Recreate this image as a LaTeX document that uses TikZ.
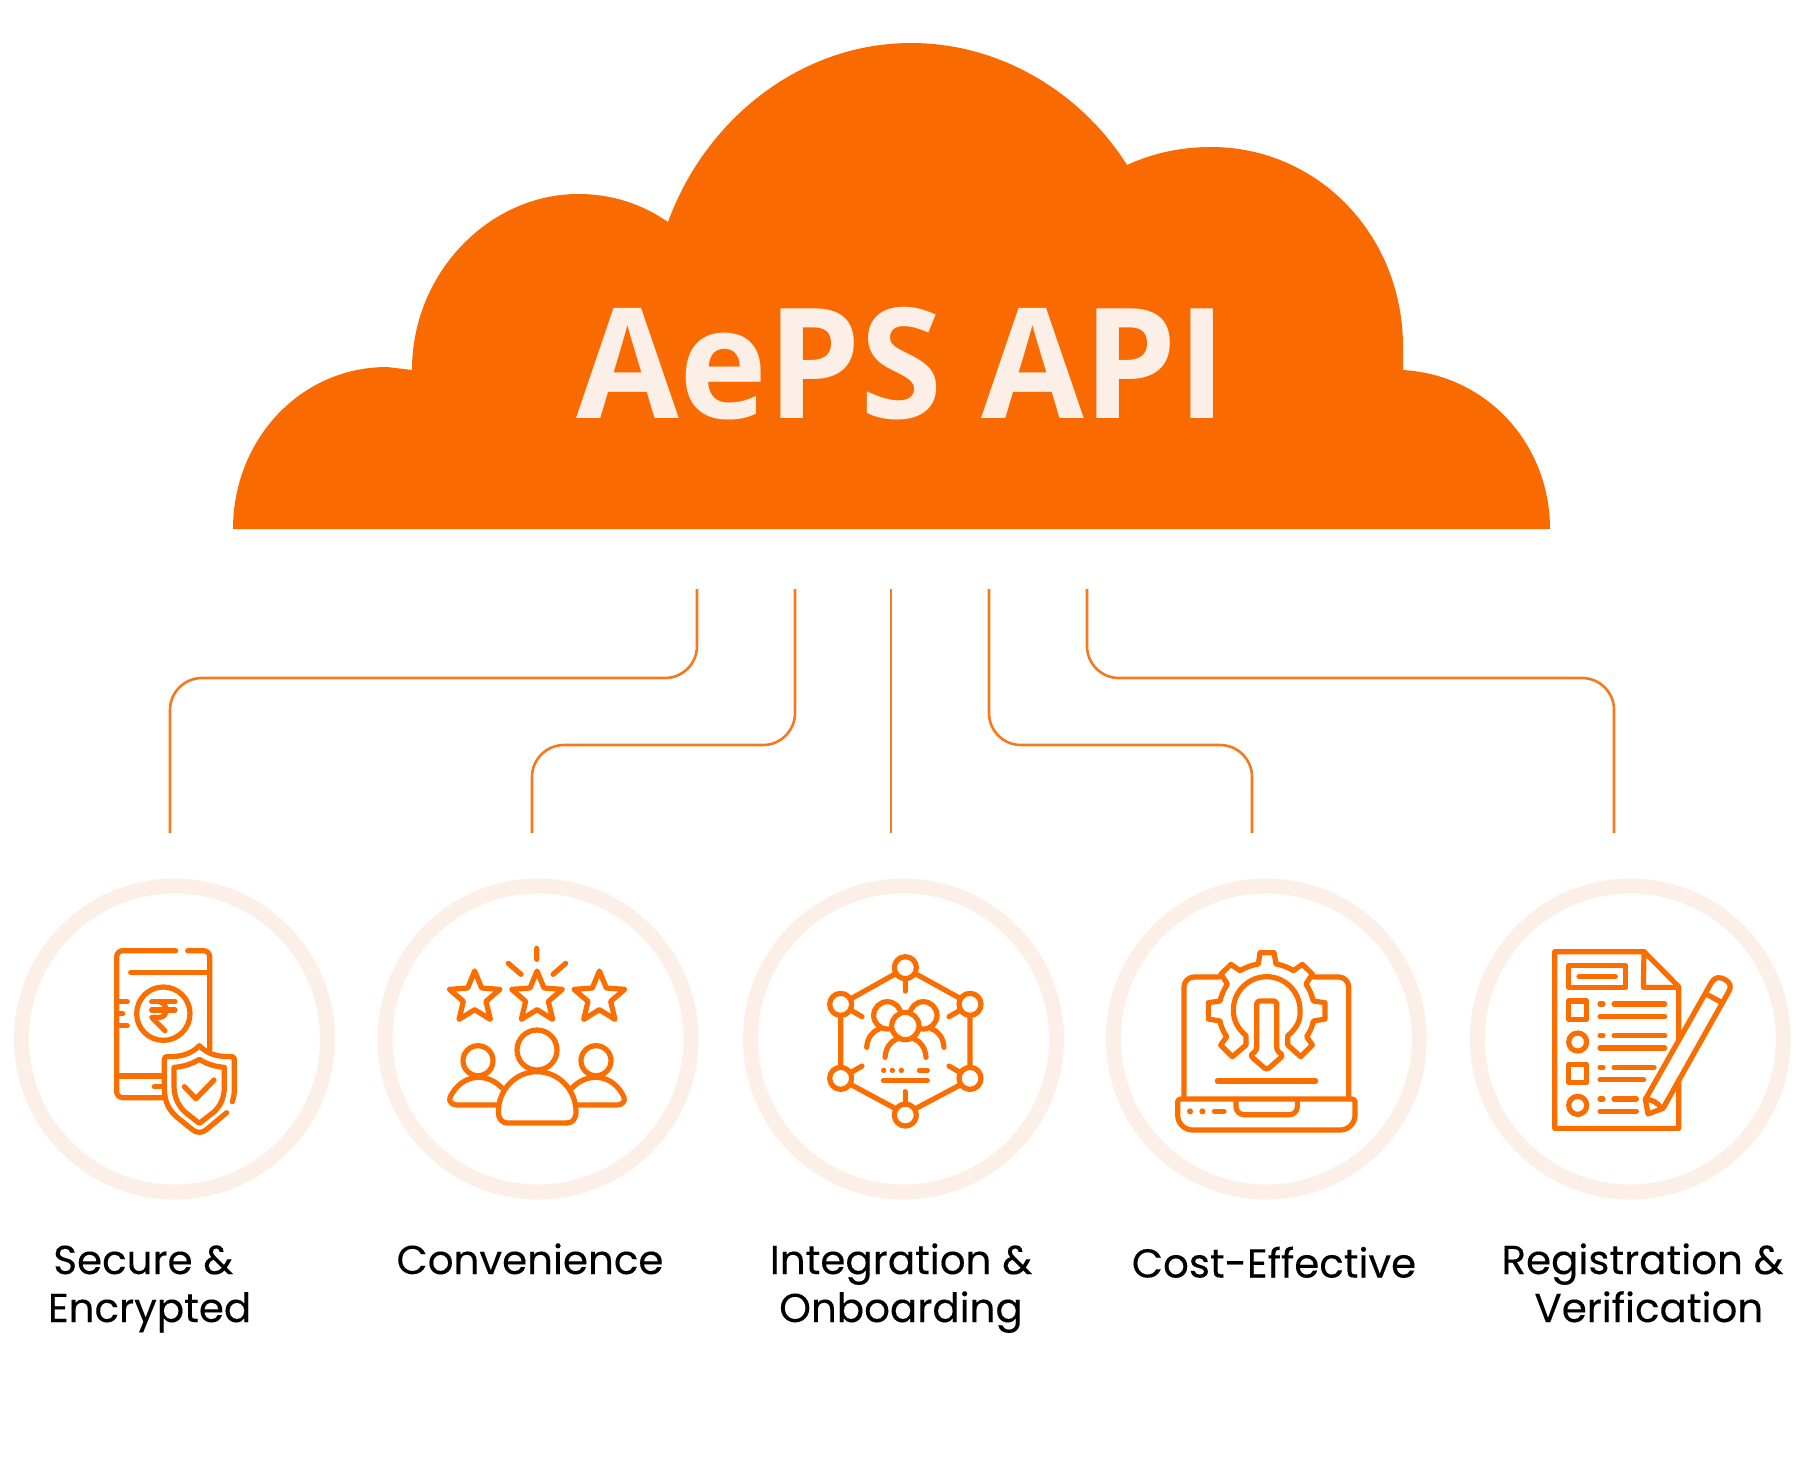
\documentclass[tikz,border=0pt]{standalone}
\usepackage{fontspec}
\usepackage{graphicx}
\setmainfont{Poppins}[FakeBold=0.2]
\newfontfamily\titlefont{Open Sans}[BoldFont={* Bold}]
\definecolor{brand}{HTML}{F96B00}
\definecolor{iconc}{HTML}{FA6E00}
\definecolor{linec}{HTML}{F57A1E}
\definecolor{pale}{HTML}{FCEFE8}
\tikzset{
  ring/.style={circle,draw=pale,line width=7.5pt,minimum size=153pt,inner sep=0pt},
  ic/.style={draw=iconc,line width=2.6pt,line cap=round,line join=round},
  dotf/.style={fill=iconc,draw=none},
  conn/.style={draw=linec,line width=1.3pt,rounded corners=16pt},
  lab/.style={anchor=base,align=center,inner sep=0pt,text=black,font=\fontsize{20.2pt}{24pt}\selectfont},
  zoomed/.style={shift={(#1,860)},x=0.16667pt,y=-0.16667pt}
}
\begin{document}
\begin{tikzpicture}[x=0.5pt,y=-0.5pt]
\useasboundingbox[fill=white] (0,0) rectangle (1808,1463);
% cloud
\fill[brand] (233,529) .. controls (233,440) and (300,367) .. (387,367)
  -- (412,370) .. controls (412,272) and (490,194) .. (578,194)
  .. controls (612,194) and (642,204) .. (668,222)
  .. controls (705,120) and (800,43) .. (911,43)
  .. controls (1003,43) and (1083,95) .. (1127,165)
  .. controls (1153,153) and (1181,147) .. (1211,147)
  .. controls (1318,147) and (1403,235) .. (1403,347)
  -- (1403,370) .. controls (1488,375) and (1550,445) .. (1550,529) -- cycle;
\node[anchor=base west,inner sep=0pt,text=pale] (title) at (576,418)
  {\resizebox{325pt}{55.6pt}{\titlefont\bfseries AePS API}};
% rings
\node[ring] (c1) at (174.5,1039) {};
\node[ring] (c2) at (538,1039) {};
\node[ring] (c3) at (903.5,1039) {};
\node[ring] (c4) at (1266.3,1039) {};
\node[ring] (c5) at (1630.3,1039) {};
% connectors
\coordinate (t1) at (697,589); \coordinate (t2) at (795,589); \coordinate (t3) at (891,589);
\coordinate (t4) at (989,589); \coordinate (t5) at (1087,589);
\coordinate (b1) at (170,833); \coordinate (b2) at (532,833); \coordinate (b3) at (891,833);
\coordinate (b4) at (1252,833); \coordinate (b5) at (1614,833);
\coordinate (hi) at (0,678); \coordinate (lo) at (0,745);
\draw[conn] (t1) -- (t1 |- hi) -- (b1 |- hi) -- (b1);
\draw[conn] (t2) -- (t2 |- lo) -- (b2 |- lo) -- (b2);
\draw[conn] (t3) -- (b3);
\draw[conn] (t4) -- (t4 |- lo) -- (b4 |- lo) -- (b4);
\draw[conn] (t5) -- (t5 |- hi) -- (b5 |- hi) -- (b5);
% labels
\node[lab] (l1) at (149.6,1322) {Secure \&\hspace*{6.3pt}\\Encrypted};
\node[lab] (l2) at (530,1274) {Convenience};
\node[lab] (l3) at (901,1322) {Integration \&\\Onboarding};
\node[lab] (l4) at (1274,1277.5) {Cost-Effective};
\node[lab] (l5) at (1642.5,1322) {Registration \&\\\hspace*{6.3pt}Verification};
% icon 1
\begin{scope}[zoomed=0]
\draw[ic,rounded corners=3pt] (527,272) -- (350,272) -- (350,713) -- (490,713);
\draw[ic,rounded corners=3pt] (563,272) -- (629,272) -- (629,570);
\draw[ic] (392,338) -- (622,338);
\draw[ic] (490,461) circle[radius=80];
\draw[ic] (455,425) -- (525,425) (455,450) -- (525,450);
\draw[ic] (478,425) .. controls (505,430) and (505,472) .. (478,472) -- (455,472) -- (495,512);
\draw[ic] (352,425) -- (382,425) (352,461) -- (368,461) (352,497) -- (382,497);
\draw[ic] (350,648) -- (490,648) (463,680) -- (490,680);
\draw[ic] (680,758) -- (620,808) .. controls (606,820) and (590,820) .. (576,808) -- (535,775)
  .. controls (505,750) and (493,725) .. (493,680) -- (493,598) .. controls (493,592) and (496,590) .. (500,590)
  .. controls (540,590) and (570,585) .. (598,557) .. controls (625,585) and (655,590) .. (695,590)
  .. controls (700,590) and (703,592) .. (703,598) -- (703,690) .. controls (703,705) and (700,715) .. (697,725);
\draw[ic] (598,598) .. controls (575,612) and (550,620) .. (522,622) -- (522,680)
  .. controls (522,715) and (540,745) .. (560,760) -- (598,790) -- (640,757)
  .. controls (660,740) and (673,715) .. (673,680) -- (673,622)
  .. controls (645,620) and (620,612) .. (598,598) -- cycle;
\draw[ic] (553,680) -- (588,716) -- (642,660);
\end{scope}
% icon 2
\begin{scope}[zoomed=370]
\foreach \c in {314,501,688}{
  \begin{scope}[shift={(\c,413)}]
  \draw[ic] (0,-80) -- (21,-29) -- (76,-25) -- (34,11) -- (47,65) -- (0,36) -- (-47,65) -- (-34,11) -- (-76,-25) -- (-21,-29) -- cycle;
  \end{scope}}
\draw[ic] (500,265) -- (500,298) (415,310) -- (453,343) (587,310) -- (549,343);
\draw[ic] (501,570) circle[radius=60];
\draw[ic] (324,602) circle[radius=45];
\draw[ic] (678,602) circle[radius=45];
\draw[ic] (385,755) .. controls (385,690) and (436,635) .. (501,635) .. controls (566,635) and (618,690) .. (618,755)
  .. controls (618,778) and (606,789) .. (590,789) -- (413,789) .. controls (397,789) and (385,778) .. (385,755) -- cycle;
\draw[ic] (395,683) .. controls (375,662) and (350,652) .. (325,652) .. controls (285,652) and (255,680) .. (240,712)
  .. controls (235,725) and (247,735) .. (262,735) -- (380,735);
\draw[ic] (607,683) .. controls (627,662) and (652,652) .. (678,652) .. controls (718,652) and (748,680) .. (762,712)
  .. controls (767,725) and (755,735) .. (740,735) -- (622,735);
\end{scope}
% icon 3
\begin{scope}[zoomed=730]
\foreach \p in {(526,323),(332,433),(720,433),(332,655),(720,655),(526,765)}
  \draw[ic] \p circle[radius=33];
\draw[ic] (495,342) -- (365,415) (558,342) -- (690,415) (332,470) -- (332,618) (720,470) -- (720,618)
  (365,675) -- (495,745) (690,675) -- (558,745);
\draw[ic] (526,360) -- (526,393) (526,730) -- (526,695) (365,452) -- (396,470) (688,452) -- (657,470)
  (365,636) -- (396,618) (688,636) -- (657,618);
\draw[ic] (472,466) circle[radius=41];
\draw[ic] (580,466) circle[radius=41];
\draw[ic,fill=white] (526,498) circle[radius=41];
\draw[ic] (410,562) .. controls (412,535) and (425,515) .. (447,507);
\draw[ic] (642,562) .. controls (640,535) and (627,515) .. (605,507);
\draw[ic] (465,592) .. controls (467,565) and (480,545) .. (500,537);
\draw[ic] (588,592) .. controls (586,565) and (573,545) .. (553,537);
\fill[dotf] (461,631) circle[radius=8] (487,631) circle[radius=8] (514,631) circle[radius=8];
\draw[ic] (568,631) -- (592,631) (460,661) -- (592,661);
\end{scope}
% icon 4
\begin{scope}[zoomed=1090]
\draw[ic,rounded corners=5pt] (388,351) -- (282,351) -- (282,715);
\draw[ic,rounded corners=5pt] (672,351) -- (776,351) -- (776,715);
\draw[ic] (272,717) -- (786,717) .. controls (792,717) and (795,721) .. (795,726) -- (795,765)
  .. controls (795,790) and (775,810) .. (750,810) -- (308,810)
  .. controls (283,810) and (263,790) .. (263,765) -- (263,726) .. controls (263,721) and (266,717) .. (272,717) -- cycle;
\draw[ic,rounded corners=4pt] (438,720) -- (438,764) -- (622,764) -- (622,720);
\fill[dotf] (300,754) circle[radius=9] (337,754) circle[radius=9];
\draw[ic] (373,754) -- (402,754) (382,663) -- (677,663);
\draw[ic] (468,527) -- (468,555) -- (427,590) -- (392,555) -- (410,530)
  .. controls (400,515) and (393,500) .. (390,483) -- (355,477) -- (355,428) -- (390,423)
  .. controls (394,405) and (402,388) .. (412,372) -- (393,342) -- (423,313) -- (450,332)
  .. controls (467,322) and (485,315) .. (505,312) -- (510,278) -- (552,278) -- (558,312)
  .. controls (577,315) and (595,322) .. (610,332) -- (637,313) -- (667,342) -- (648,372)
  .. controls (658,388) and (666,405) .. (670,423) -- (705,428) -- (705,477) -- (670,483)
  .. controls (667,500) and (660,515) .. (650,530) -- (667,555) -- (632,590) -- (593,555) -- (593,527)
  .. controls (620,505) and (633,480) .. (630,450) .. controls (630,395) and (585,350) .. (530,350)
  .. controls (475,350) and (430,395) .. (430,450) .. controls (430,480) and (442,505) .. (468,527);
\draw[ic,rounded corners=1.5pt] (500,572) -- (500,423) -- (560,423) -- (560,572) -- (580,586) -- (530,630) -- (480,586) -- cycle;
\end{scope}
% icon 5
\begin{scope}[zoomed=1448]
\draw[ic] (692,541) -- (692,380) -- (588,275) -- (320,275) -- (320,805) -- (692,805) -- (692,661);
\draw[ic] (588,275) -- (586,382) -- (692,382);
\draw[ic] (362,316) rectangle (533,382);
\draw[ic] (393,350) -- (502,350);
\draw[ic] (362,423) rectangle (416,478);
\draw[ic] (389,546) circle[radius=27];
\draw[ic] (362,613) rectangle (416,668);
\draw[ic] (389,736) circle[radius=27];
\draw[ic] (456,432) -- (465,432) (498,432) -- (650,432) (456,470) -- (650,470);
\draw[ic] (456,527) -- (465,527) (498,527) -- (650,527) (456,564) -- (650,564);
\draw[ic] (456,622) -- (465,622) (498,622) -- (618,622) (456,659) -- (587,659);
\draw[ic] (456,717) -- (465,717) (498,717) -- (565,717) (456,754) -- (565,754);
\draw[ic] (592,718) -- (790,368) .. controls (800,350) and (815,350) .. (830,358)
  .. controls (848,368) and (850,380) .. (843,393) -- (645,745) -- (600,762) -- cycle;
\draw[ic] (780,405) -- (822,428);
\draw[ic] (592,718) .. controls (612,718) and (630,728) .. (640,745);
\end{scope}
\end{tikzpicture}
\end{document}
